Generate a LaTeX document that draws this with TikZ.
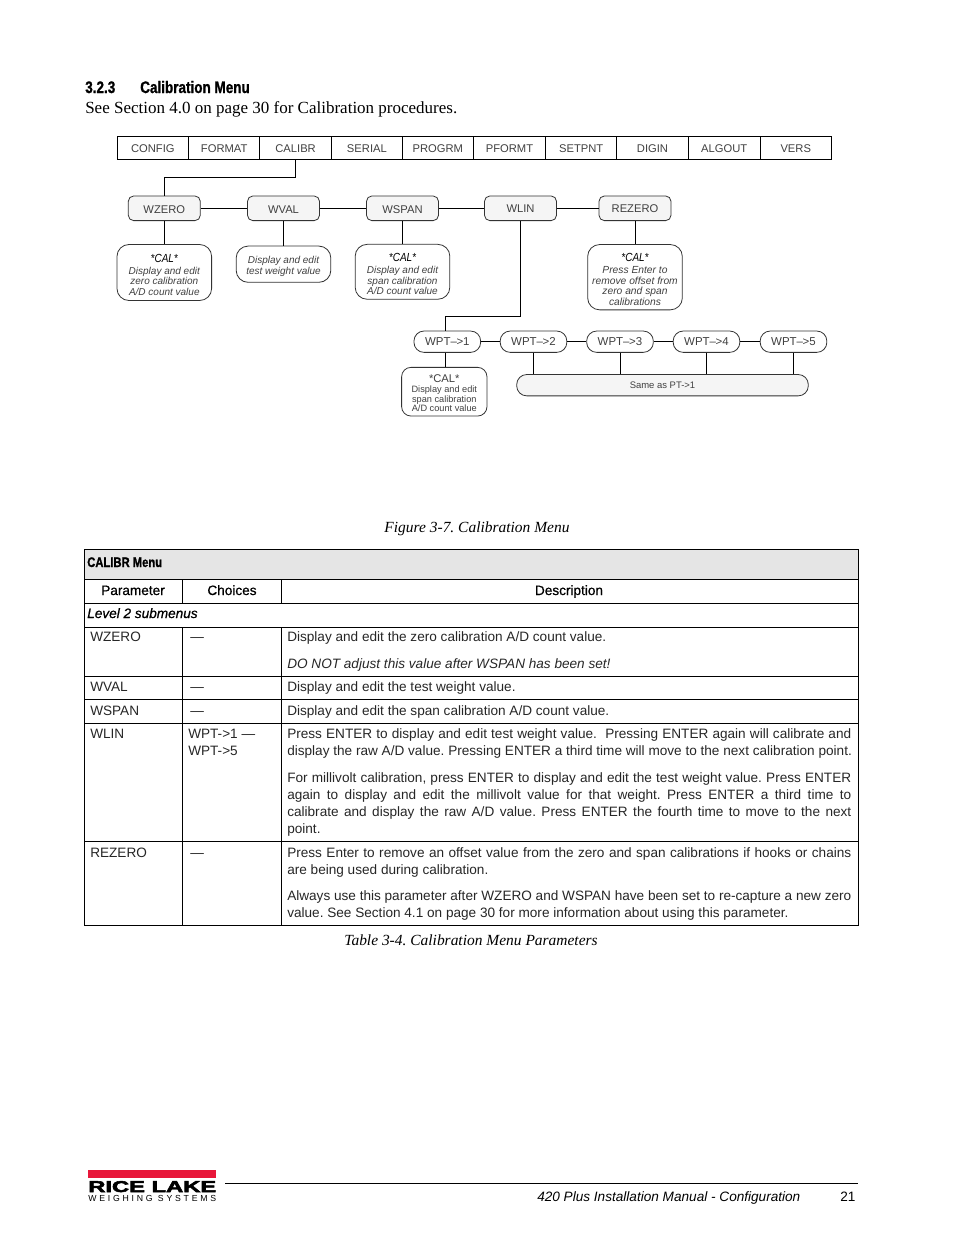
\documentclass[tikz,border=0pt]{standalone}
\usepackage{fontspec}
\setmainfont{Liberation Serif}
\setsansfont{Liberation Sans}
\frenchspacing
\newfontfamily\headfont[FakeStretch=0.81,FakeBold=1]{Liberation Sans Bold}
\newfontfamily\medfont[FakeBold=0.7]{Liberation Sans}
\newfontfamily\logofont[FakeBold=3]{Liberation Sans Bold}
\newfontfamily\logosub[LetterSpace=32]{Liberation Sans}
\newfontfamily\calfont[FakeStretch=0.85]{Liberation Sans}
\definecolor{diagtext}{gray}{0.25}
\definecolor{boxfill}{gray}{0.96}
\definecolor{headfill}{gray}{0.90}
\definecolor{logored}{HTML}{E8173A}
\tikzset{
  menucell/.style={draw=black,line width=0.75pt,text=diagtext,minimum height=17.5pt,inner sep=0pt,text height=7pt,text depth=0pt,font=\sffamily\fontsize{8.4}{10}\selectfont},
  subbox/.style={draw=black!80,fill=boxfill,line width=0.6pt,rounded corners=4pt,minimum width=54pt,minimum height=18.5pt,inner sep=0pt,text height=8pt,text depth=0pt,text=diagtext,font=\sffamily\fontsize{8.4}{10}\selectfont},
  wptbox/.style={draw=black!80,line width=0.6pt,rounded corners=7.5pt,minimum width=50pt,minimum height=16pt,inner sep=0pt,text=diagtext,font=\sffamily\fontsize{8.6}{10}\selectfont},
  calbox/.style={draw=black!80,line width=0.6pt,rounded corners=9pt,minimum width=71pt,inner sep=0pt,align=center,text=diagtext,font=\sffamily\itshape\fontsize{7.5}{7.9}\selectfont},
  link/.style={draw=black,line width=0.75pt},
  rule/.style={draw=black,line width=0.55pt},
  celltext/.style={anchor=base west,inner sep=0pt,font=\sffamily\fontsize{10.2}{12}\selectfont,text=black!85},
  headtext/.style={anchor=base,inner sep=0pt,font=\medfont\fontsize{10.2}{12}\selectfont},
  footer/.style={anchor=base west,inner sep=0pt,font=\sffamily\itshape\fontsize{10.2}{12}\selectfont},
}
\newcommand{\jline}[1]{\hbox to 423pt{#1}}
\newcommand{\calmark}{\rule{0pt}{9.5pt}{\calfont\itshape\fontsize{8.8}{9}\selectfont\color{black} *CAL*}}
\begin{document}
\begin{tikzpicture}[x=0.75pt,y=-0.75pt]
  \useasboundingbox (0,0) rectangle (954,1235);
  % section heading
  \node[anchor=base west,inner sep=0pt,font=\headfont\fontsize{12.5}{14}\selectfont] (secnum) at (85,93) {3.2.3};
  \node[anchor=base west,inner sep=0pt,font=\headfont\fontsize{12.5}{14}\selectfont] (sectitle) at (140,93) {Calibration Menu};
  \node[anchor=base west,inner sep=0pt,font=\rmfamily\fontsize{12.75}{14}\selectfont] (secline) at (85,113) {See Section 4.0 on page 30 for Calibration procedures.};

  % top menu
  \foreach \name/\lbl/\xa/\xb in {config/CONFIG/117/188.7,format/FORMAT/188.7/259.7,calibr/CALIBR/259.7/331.5,serial/SERIAL/331.5/402.3,progrm/PROGRM/402.3/473.3,pformt/PFORMT/473.3/545.7,setpnt/SETPNT/545.7/616.7,digin/DIGIN/616.7/688.3,algout/ALGOUT/688.3/760,vers/VERS/760/831.5}
    \node[menucell,minimum width={(\xb-\xa)*0.75pt}] (\name) at ({(\xa+\xb)/2},148.3) {\lbl};

  % level 2
  \node[subbox] (wzero) at (164.3,208.3) {WZERO};
  \node[subbox] (wval) at (283.5,208.3) {WVAL};
  \node[subbox] (wspan) at (402.5,208.3) {WSPAN};
  \node[subbox,text height=6pt] (wlin) at (520.5,208.3) {WLIN};
  \node[subbox,text height=7pt] (rezero) at (635,208.3) {REZERO};

  \node[calbox,minimum height=42pt] (calzero) at (164.3,272.5) {\calmark\\[1pt]Display and edit\\zero calibration\\A/D count value};
  \node[calbox,minimum height=27.2pt] (calval) at (283.5,264.2) {\rule{0pt}{9pt}Display and edit\\test weight value};
  \node[calbox,minimum height=41.2pt] (calspan) at (402.5,271.8) {\calmark\\[1pt]Display and edit\\span calibration\\A/D count value};
  \node[calbox,minimum height=49pt,font=\sffamily\itshape\fontsize{7.7}{7.9}\selectfont] (calrez) at (635,277.2) {\calmark\\[1pt]Press Enter to\\remove offset from\\zero and span\\calibrations};

  \draw[link] (calibr.south) -- ++(0,17.5) -| (wzero.north);
  \draw[link] (wzero) -- (wval);
  \draw[link] (wval) -- (wspan);
  \draw[link] (wspan) -- (wlin);
  \draw[link] (wlin) -- (rezero);
  \draw[link] (wzero) -- (calzero);
  \draw[link] (wval) -- (calval);
  \draw[link] (wspan) -- (calspan);
  \draw[link] (rezero) -- (calrez);

  % level 3
  \node[wptbox] (wpt1) at (447.3,341.7) {WPT--\kern-0.3pt>1\hspace{5pt}};
  \node[wptbox] (wpt2) at (533.5,341.7) {WPT--\kern-0.3pt>2};
  \node[wptbox] (wpt3) at (620,341.7) {WPT--\kern-0.3pt>3};
  \node[wptbox] (wpt4) at (706.5,341.7) {WPT--\kern-0.3pt>4};
  \node[wptbox] (wpt5) at (793.5,341.7) {WPT--\kern-0.3pt>5};
  \node[wptbox,fill=boxfill,minimum width=218.7pt,font=\sffamily\fontsize{7.1}{9}\selectfont] (sameas) at (662.5,385.2) {Same as PT->1};
  \node[calbox,minimum width=64pt,minimum height=36.5pt,rounded corners=7pt,font=\sffamily\fontsize{6.9}{7.2}\selectfont] (calwpt) at (444.3,391.7) {\rule{0pt}{8.5pt}{\fontsize{8.4}{9}\selectfont *CAL*}\\Display and edit\\span calibration\\A/D count value};

  \coordinate (wlinbend) at (445,316);
  \draw[link] (wlin.south) |- (wlinbend) -- (wlinbend |- wpt1.north);
  \draw[link] (wpt1) -- (wpt2);
  \draw[link] (wpt2) -- (wpt3);
  \draw[link] (wpt3) -- (wpt4);
  \draw[link] (wpt4) -- (wpt5);
  \draw[link] (wlinbend |- wpt1.south) -- (wlinbend |- calwpt.north);
  \foreach \n in {wpt2,wpt3,wpt4,wpt5}
    \draw[link] (\n.south) -- (\n.south |- sameas.north);

  \node[anchor=base,inner sep=0pt,font=\rmfamily\itshape\fontsize{11.6}{13}\selectfont] (figcap) at (477,532) {Figure 3-7. Calibration Menu};

  % table frame
  \fill[headfill] (84.5,549.3) rectangle (858,579.3);
  \draw[rule] (84.5,549.3) rectangle (858,925.5);
  \foreach \y in {579.3,603.3,627.3,676.3,699.7,723.3,841}
    \draw[rule] (84.5,\y) -- (858,\y);
  \foreach \x in {182.7,281.7} {
    \draw[rule] (\x,579.3) -- (\x,603.3);
    \draw[rule] (\x,627.3) -- (\x,925.5);
  }
  \node[anchor=base west,inner sep=0pt,font=\headfont\fontsize{10.4}{12}\selectfont] (tabtitle) at (87,567) {CALIBR Menu};
  \node[headtext] (hparam) at (133,595) {Parameter};
  \node[headtext] (hchoice) at (232,595) {Choices};
  \node[headtext] (hdesc) at (569,595) {Description};
  \node[anchor=base west,inner sep=0pt,font=\medfont\itshape\fontsize{10.2}{12}\selectfont] (level) at (87,618) {Level 2 submenus};

  % parameter column
  \foreach \y/\lbl [count=\i] in {641/WZERO,691/WVAL,715/WSPAN,738/WLIN,857/REZERO}
    \node[celltext] (par\i) at (90,\y) {\lbl};
  \foreach \y [count=\i] in {641,691,715,857}
    \node[celltext] (dash\i) at (190,\y) {---};
  \node[celltext] (choice1) at (188,738) {WPT->1 ---};
  \node[celltext] (choice2) at (188,755) {WPT->5};

  % description column
  \foreach \y/\txt [count=\i] in {
    641/{Display and edit the zero calibration A/D count value.},
    668/{\itshape DO NOT adjust this value after WSPAN has been set!},
    691/{Display and edit the test weight value.},
    715/{Display and edit the span calibration A/D count value.},
    738/{\jline{Press ENTER to display and edit test weight value.\ \ Pressing ENTER again will calibrate and}},
    755/{display the raw A/D value. Pressing ENTER a third time will move to the next calibration point.},
    782/{\jline{For millivolt calibration, press ENTER to display and edit the test weight value. Press ENTER}},
    799/{\jline{again to display and edit the millivolt value for that weight. Press ENTER a third time to}},
    816/{\jline{calibrate and display the raw A/D value. Press ENTER the fourth time to move to the next}},
    833/{point.},
    857/{\jline{Press Enter to remove an offset value from the zero and span calibrations if hooks or chains}},
    874/{are being used during calibration.},
    900/{\jline{Always use this parameter after WZERO and WSPAN have been set to re-capture a new zero}},
    917/{value. See Section 4.1 on page 30 for more information about using this parameter.}}
    \node[celltext] (desc\i) at (287,\y) {\txt};

  \node[anchor=base,inner sep=0pt,font=\rmfamily\itshape\fontsize{11.6}{13}\selectfont] (tabcap) at (471,945) {Table 3-4. Calibration Menu Parameters};

  % footer
  \fill[logored] (87.7,1170) rectangle (216,1178);
  \node[anchor=base west,inner sep=0pt] (logotop) at (88,1192) {\resizebox{96pt}{8.2pt}{\logofont RICE LAKE}};
  \node[anchor=base west,inner sep=0pt] (logosub) at (88,1201) {\resizebox{96pt}{4.6pt}{\logosub WEIGHING SYSTEMS}};
  \draw[line width=0.6pt] (225,1183.5) -- (858,1183.5);
  \node[footer] (footman) at (537,1201) {420 Plus Installation Manual - Configuration};
  \node[anchor=base west,inner sep=0pt,font=\sffamily\fontsize{10.2}{12}\selectfont] (footpage) at (840,1201) {21};
\end{tikzpicture}
\end{document}
